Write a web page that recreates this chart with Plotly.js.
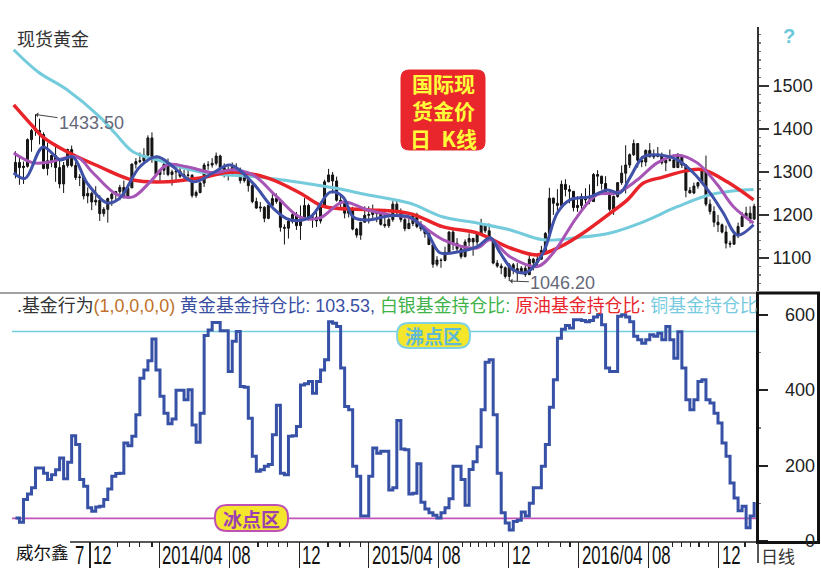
<!DOCTYPE html>
<html><head><meta charset="utf-8">
<script src="https://cdn.plot.ly/plotly-3.0.1.min.js"></script>
<style>html,body{margin:0;padding:0;background:#fff;}#chart{width:821px;height:569px;}</style>
</head><body><div id="chart"></div>
<script>
// ---------- weekly spot gold K-line (Wednesday-centred weeks) ----------
const weekStart = '2013-07-24';
const weekCount = 185;
const openP = [1294,1322,1310,1313,1375,1396,1396,1387,1308,1326,1338,1310,1272,1315,1352,1315,1287,1288,1244,1250,1230,1234,1203,
1213,1238,1248,1254,1264,1244,1263,1318,1324,1326,1339,1379,1335,1294,1304,1318,1294,1300,1302,1290,1293,1292,1245,1252,1274,1316,1316,1320,1337,1310,1303,1294,1310,1304,1280,1287,1268,1231,1216,1218,1192,1222,1238,1231,1171,1169,1185,1201,1175,1191,1222,1195,
1195,1186,1223,1277,1293,1279,1234,1228,1204,1213,1167,1153,1183,1199,1201,1207,1203,1178,1175,1189,1225,1205,1189,1168,1180,1201,1173,1168,1157,1131,1085,1095,1094,1113,1160,1134,1121,1103,1137,1145,1137,1156,1176,1163,1142,1088,1081,1077,1057,1084,1075,1065,
1076,1061,1097,1089,1097,1117,1157,1239,1227,1222,1271,1259,1255,1217,1222,1243,1235,1231,1294,1290,1273,1252,1213,1243,1275,1297,1316,1340,1366,1327,1323,1350,1335,1336,1341,1321,1327,1328,1310,1337,1316,1257,1251,1267,1275,1304,1225,1208,1183,1177,1160,1134,1132,
1152,1173,1196,1204,1190];
const highP = [1348,1336,1324,1378,1400,1434,1424,1392,1368,1340,1362,1327,1323,1354,1361,1323,1295,1291,1264,1254,1267,1246,1218,
1240,1251,1256,1270,1280,1271,1320,1332,1345,1355,1385,1392,1338,1305,1331,1331,1305,1315,1316,1305,1305,1295,1257,1277,1321,1325,1332,1345,1340,1320,1312,1322,1320,1310,1296,1290,1274,1240,1230,1220,1229,1255,1250,1234,1178,1193,1208,1207,1222,1239,1226,1204,
1216,1228,1282,1307,1300,1289,1245,1235,1220,1219,1170,1183,1220,1220,1224,1209,1207,1214,1194,1232,1233,1215,1197,1195,1205,1205,1186,1175,1159,1132,1104,1099,1126,1162,1170,1146,1127,1143,1157,1147,1160,1191,1178,1180,1143,1095,1087,1080,1088,1088,1088,1081,
1081,1112,1100,1111,1128,1160,1263,1240,1260,1280,1283,1269,1255,1243,1250,1262,1271,1297,1304,1291,1290,1258,1245,1276,1315,1362,1343,1375,1367,1337,1352,1367,1352,1358,1345,1329,1352,1330,1344,1340,1318,1265,1275,1277,1308,1338,1236,1220,1200,1180,1175,1140,1162,
1182,1207,1219,1220,1226];
const lowP = [1285,1270,1272,1310,1347,1384,1364,1306,1292,1311,1277,1262,1251,1310,1311,1281,1267,1236,1227,1211,1222,1186,1196,
1182,1221,1232,1234,1238,1240,1262,1308,1320,1322,1335,1321,1290,1277,1293,1290,1268,1277,1286,1284,1284,1240,1240,1250,1265,1305,1310,1315,1292,1287,1280,1290,1292,1273,1275,1254,1227,1214,1207,1183,1190,1221,1226,1161,1131,1145,1180,1165,1142,1190,1187,1170,
1172,1180,1217,1276,1250,1231,1216,1192,1194,1164,1147,1142,1182,1180,1192,1183,1175,1170,1170,1184,1200,1183,1162,1168,1174,1169,1162,1147,1131,1077,1080,1077,1092,1110,1118,1116,1098,1101,1127,1105,1130,1152,1158,1140,1085,1077,1062,1052,1046,1062,1046,1064,
1056,1061,1071,1082,1096,1111,1152,1200,1210,1217,1243,1227,1208,1207,1213,1224,1225,1231,1267,1259,1246,1208,1200,1240,1270,1250,1309,1337,1310,1311,1313,1334,1330,1334,1317,1302,1324,1309,1309,1309,1241,1250,1248,1261,1272,1220,1201,1172,1160,1157,1122,1124,1130,
1146,1172,1195,1180,1190];
const closeP = [1322,1310,1313,1375,1396,1396,1387,1308,1326,1338,1310,1272,1315,1352,1315,1287,1288,1244,1250,1230,1234,1203,1213,
1238,1248,1254,1264,1244,1263,1318,1324,1326,1339,1379,1335,1294,1304,1318,1294,1300,1302,1290,1293,1292,1245,1252,1274,1316,1316,1320,1337,1310,1303,1294,1310,1304,1280,1287,1268,1231,1216,1218,1192,1222,1238,1231,1171,1169,1185,1201,1175,1191,1222,1195,1195,
1186,1223,1277,1293,1279,1234,1228,1204,1213,1167,1153,1183,1199,1201,1207,1203,1178,1175,1189,1225,1205,1189,1168,1180,1201,1173,1168,1157,1131,1085,1095,1094,1113,1160,1134,1121,1103,1137,1145,1137,1156,1176,1163,1142,1088,1081,1077,1057,1084,1075,1065,1076,
1061,1097,1089,1097,1117,1157,1239,1227,1222,1271,1259,1255,1217,1222,1243,1235,1231,1294,1290,1273,1252,1213,1243,1275,1297,1316,1340,1366,1327,1323,1350,1335,1336,1341,1321,1327,1328,1310,1337,1316,1257,1251,1267,1275,1304,1225,1208,1183,1177,1160,1134,1132,1152,
1173,1196,1204,1190,1220];

// ---------- gold fund holding ratio (weekly, same weeks) ----------
const fundRatio = [61,50,110,125,141,194,194,180,163,176,
189,220,165,209,279,256,163,145,88,79,
90,92,110,138,172,179,180,260,253,278,
335,432,454,478,536,454,384,339,311,324,
400,400,375,401,308,262,339,545,560,580,
580,558,558,450,530,556,410,408,326,225,
185,189,198,203,282,360,180,176,278,279,
304,414,417,423,392,423,454,481,582,578,
569,459,357,348,198,172,66,66,172,247,
233,238,238,135,141,320,244,242,125,127,
205,103,85,75,68,61,75,88,112,198,
198,163,95,190,210,250,348,474,481,335,
180,75,48,29,52,55,77,66,100,141,
141,198,256,355,428,538,562,572,565,587,
587,585,582,585,594,600,574,459,450,450,
596,600,594,582,543,534,525,534,547,543,
551,534,569,534,485,555,459,375,348,375,
423,428,375,366,339,313,260,225,154,114,
80,92,35,66,103.53];
const boilLevel = 556;
const freezeLevel = 60;

// ---------- moving averages ----------
const maFastDates = ['2013-07-21','2013-08-10','2013-09-10','2013-10-10','2013-11-01','2013-11-26','2013-12-31','2014-01-22','2014-02-26','2014-03-28','2014-04-25','2014-05-30','2014-07-04','2014-08-02','2014-09-11','2014-10-16','2014-11-15','2014-12-20','2015-01-24','2015-02-15','2015-03-05','2015-03-29','2015-05-08','2015-06-12','2015-07-12','2015-08-03','2015-08-26','2015-10-07','2015-10-30','2015-11-16','2015-12-09','2016-01-02','2016-01-30','2016-02-24','2016-03-17','2016-04-21','2016-05-21','2016-06-12','2016-06-30','2016-07-23','2016-08-21','2016-09-20','2016-10-18','2016-11-16','2016-12-09','2017-01-03','2017-01-31'];
const maFastVals = [1298,1285,1358,1328,1335,1274,1228,1239,1312,1335,1312,1277,1298,1316,1274,1216,1188,1195,1253,1242,1195,1188,1198,1195,1158,1112,1112,1126,1147,1112,1072,1067,1112,1205,1235,1242,1258,1251,1288,1335,1339,1328,1298,1251,1205,1153,1177];
const maMidDates = ['2013-07-21','2013-08-24','2013-09-22','2013-11-08','2013-12-06','2014-01-17','2014-02-14','2014-03-16','2014-04-14','2014-05-19','2014-07-04','2014-08-07','2014-09-11','2014-10-23','2014-12-02','2015-01-06','2015-02-15','2015-03-29','2015-05-08','2015-06-12','2015-08-09','2015-10-07','2015-10-30','2015-12-04','2016-01-20','2016-02-17','2016-03-29','2016-05-03','2016-06-07','2016-07-12','2016-08-16','2016-09-20','2016-10-25','2016-11-29','2016-12-27','2017-01-31'];
const maMidVals = [1344,1321,1323,1335,1298,1247,1242,1277,1316,1312,1298,1305,1293,1242,1195,1193,1230,1212,1200,1193,1142,1123,1142,1102,1080,1112,1195,1247,1251,1281,1321,1339,1321,1270,1219,1181];
const maSlowDates = ['2013-07-21','2013-08-24','2013-09-10','2013-10-22','2013-12-18','2014-02-14','2014-04-14','2014-06-11','2014-08-07','2014-10-06','2014-12-02','2015-01-06','2015-01-29','2015-03-29','2015-06-12','2015-08-09','2015-10-07','2015-12-04','2016-01-20','2016-02-29','2016-04-09','2016-05-26','2016-06-25','2016-07-23','2016-08-26','2016-10-07','2016-11-04','2016-12-16','2017-01-31'];
const maSlowVals = [1456,1405,1381,1347,1312,1281,1277,1286,1300,1286,1251,1223,1216,1212,1203,1172,1158,1123,1107,1126,1158,1204,1235,1274,1288,1303,1305,1277,1235];
const maYearDates = ['2013-07-21','2013-09-01','2013-10-22','2013-12-18','2014-01-15','2014-02-14','2014-03-28','2014-06-11','2014-10-06','2015-01-29','2015-03-29','2015-06-12','2015-08-09','2015-10-07','2015-12-04','2016-01-30','2016-03-29','2016-05-26','2016-07-23','2016-09-20','2016-11-16','2017-01-13','2017-01-31'];
const maYearVals = [1584,1533,1491,1428,1388,1347,1328,1300,1286,1263,1247,1227,1195,1181,1165,1142,1147,1158,1184,1219,1247,1258,1259];

// ---------- axis labels ----------
const priceTicks = [1100,1200,1300,1400,1500];
const ratioTicks = [0,200,400,600];
const monthTickDates = ['2013-12-01','2014-04-01','2014-08-01','2014-12-01','2015-04-01','2015-08-01','2015-12-01','2016-04-01','2016-08-01','2016-12-01'];
const monthTickLabels = ['12','2014/04','08','12','2015/04','08','12','2016/04','08','12'];
const minorTickDates = ['2014-01-18','2014-02-08','2014-02-25','2014-03-19','2014-09-20','2014-10-07','2014-10-25','2014-11-11','2015-01-20','2015-02-10','2015-02-27','2015-03-17','2015-09-11','2015-09-25','2015-10-09','2015-10-23','2015-11-06','2015-11-20','2016-01-20','2016-02-09','2016-02-29','2016-03-17','2016-09-11','2016-09-27','2016-10-13','2016-10-28','2016-11-13','2017-01-16'];
const highNote = {date:'2013-08-28', value:1433.50};
const lowNote = {date:'2015-12-03', value:1046.20};

// ---------- geometry helpers ----------
const W=821,H=569,ML=12,MR=64,MT=27,MB=28;
const PW=W-ML-MR, PH=H-MT-MB;
const px2x = p => (p-ML)/PW;
const px2y = p => (H-MB-p)/PH;
function rrect(x0,y0,x1,y1,r){
  const X=px2x,Y=px2y;
  return `M${X(x0+r)},${Y(y0)} L${X(x1-r)},${Y(y0)} Q${X(x1)},${Y(y0)} ${X(x1)},${Y(y0+r)} L${X(x1)},${Y(y1-r)} Q${X(x1)},${Y(y1)} ${X(x1-r)},${Y(y1)} L${X(x0+r)},${Y(y1)} Q${X(x0)},${Y(y1)} ${X(x0)},${Y(y1-r)} L${X(x0)},${Y(y0+r)} Q${X(x0)},${Y(y0)} ${X(x0+r)},${Y(y0)} Z`;
}
function weekDates(){
  const out=[]; const d0=new Date(weekStart+'T00:00:00Z');
  for(let i=0;i<weekCount;i++){ out.push(new Date(d0.getTime()+i*7*86400000).toISOString().slice(0,10)); }
  return out;
}
const weeks = weekDates();
const FONT = 'Liberation Sans, Arial, Noto Sans CJK SC, sans-serif';
const CJK = 'Noto Sans CJK SC, sans-serif';

const data = [
  {type:'candlestick', x:weeks, open:openP, high:highP, low:lowP, close:closeP, xaxis:'x', yaxis:'y',
   increasing:{line:{color:'#111',width:1}, fillcolor:'#222'},
   decreasing:{line:{color:'#111',width:1}, fillcolor:'#111111'}, whiskerwidth:0, showlegend:false, hoverinfo:'skip'},
  {type:'scatter', mode:'lines', x:maYearDates, y:maYearVals, line:{color:'#74cbdc', width:3, shape:'spline'}, xaxis:'x', yaxis:'y', showlegend:false},
  {type:'scatter', mode:'lines', x:maSlowDates, y:maSlowVals, line:{color:'#e8242a', width:3.5, shape:'spline'}, xaxis:'x', yaxis:'y', showlegend:false},
  {type:'scatter', mode:'lines', x:maMidDates, y:maMidVals, line:{color:'#a654b5', width:3, shape:'spline'}, xaxis:'x', yaxis:'y', showlegend:false},
  {type:'scatter', mode:'lines', x:maFastDates, y:maFastVals, line:{color:'#3f51a8', width:3, shape:'spline'}, xaxis:'x', yaxis:'y', showlegend:false},
  {type:'scatter', mode:'lines', x:weeks, y:fundRatio, line:{color:'#3651a6', width:3, shape:'hv'}, xaxis:'x', yaxis:'y2', showlegend:false}
];

const annotations = [];
const xLabelIdx = new Set();
function ann(o){ annotations.push(Object.assign({showarrow:false}, o)); return annotations.length-1; }

ann({xref:'paper', yref:'paper', x:px2x(15), y:px2y(38), xanchor:'left', yanchor:'middle', text:'现货黄金', font:{family:CJK, size:18, color:'#333'}});
ann({xref:'paper', yref:'paper', x:px2x(789), y:px2y(36), xanchor:'center', yanchor:'middle', text:'<b>?</b>', font:{family:FONT, size:20, color:'#6cc8dc'}});
ann({xref:'x', yref:'y', x:highNote.date, y:highNote.value, text:highNote.value.toFixed(2), showarrow:true, ax:56, ay:8, arrowhead:1, arrowsize:0.9, arrowwidth:1, arrowcolor:'#444', font:{family:FONT, size:18, color:'#65687a'}});
ann({xref:'x', yref:'y', x:lowNote.date, y:lowNote.value, text:lowNote.value.toFixed(2), showarrow:true, ax:53, ay:2, arrowhead:1, arrowsize:0.9, arrowwidth:1, arrowcolor:'#444', font:{family:FONT, size:18, color:'#65687a'}});
ann({xref:'paper', yref:'paper', x:px2x(443), y:px2y(110.5), xanchor:'center', yanchor:'middle', align:'center', borderpad:0,
  text:'<b>国际现<br>货金价<br>日\u2002K线</b>', font:{family:CJK, size:21, color:'#ffff3a'}});
ann({xref:'paper', yref:'paper', x:px2x(15), y:px2y(306), xanchor:'left', yanchor:'middle',
  text:'<span style="color:#333">.基金行为</span><span style="color:#c0702a">(1,0,0,0,0)</span> <span style="color:#3a4fa3">黄金基金持仓比: 103.53,</span> <span style="color:#3fb34a">白银基金持仓比:</span> <span style="color:#e8262b">原油基金持仓比:</span> <span style="color:#77cbe0">铜基金持仓比</span>',
  font:{family:FONT, size:17.9, color:'#333'}});
ann({xref:'paper', yref:'paper', x:px2x(433.5), y:px2y(335.5), xanchor:'center', yanchor:'middle', text:'<b>沸点区</b>', font:{family:CJK, size:19, color:'#5fbad8'}});
ann({xref:'paper', yref:'paper', x:px2x(251.5), y:px2y(518), xanchor:'center', yanchor:'middle', text:'<b>冰点区</b>', font:{family:CJK, size:19, color:'#9c3fb0'}});
ann({xref:'paper', yref:'paper', x:px2x(14), y:px2y(551), xanchor:'left', yanchor:'middle', text:'威尔鑫', font:{family:CJK, size:17.5, color:'#111'}});
ann({xref:'paper', yref:'paper', x:px2x(759), y:px2y(555), xanchor:'left', yanchor:'middle', text:'日线', font:{family:CJK, size:17, color:'#333'}});
xLabelIdx.add(ann({xref:'paper', yref:'paper', x:px2x(73), y:px2y(555), xanchor:'left', yanchor:'middle', text:'7', font:{family:FONT, size:25, color:'#111'}}));
monthTickDates.forEach((d,i)=>{
  xLabelIdx.add(ann({xref:'x', yref:'paper', x:d, xshift:1, y:px2y(555), xanchor:'left', yanchor:'middle', text:monthTickLabels[i], font:{family:FONT, size:25, color:'#111'}}));
});
ratioTicks.forEach(v=>{
  ann({xref:'paper', yref:'y2', x:px2x(817), y:v, xanchor:'right', yanchor:'middle', text:String(v), font:{family:FONT, size:18, color:'#222'}});
});

const shapes = [
  {type:'line', xref:'paper', yref:'y2', x0:0, x1:1, y0:boilLevel, y1:boilLevel, line:{color:'#72cfe0', width:1.6}, layer:'below'},
  {type:'line', xref:'paper', yref:'y2', x0:0, x1:1, y0:freezeLevel, y1:freezeLevel, line:{color:'#c454b8', width:1.6}, layer:'below'},
  {type:'path', xref:'paper', yref:'paper', path:rrect(401,70,485,150,8), fillcolor:'#e8262b', line:{color:'#e8262b', width:1}},
  {type:'path', xref:'paper', yref:'paper', path:rrect(397,323,470,348,12), fillcolor:'#f4e62a', line:{color:'#80d2e2', width:2}},
  {type:'path', xref:'paper', yref:'paper', path:rrect(215,505,288,531,12), fillcolor:'#f4e62a', line:{color:'#c050b4', width:2}},
  {type:'line', xref:'paper', yref:'paper', x0:px2x(0), x1:px2x(757), y0:px2y(293), y1:px2y(293), line:{color:'#444', width:1.2}},
  {type:'line', xref:'paper', yref:'paper', x0:px2x(70), x1:px2x(757), y0:px2y(542), y1:px2y(542), line:{color:'#222', width:1.5}},
  {type:'rect', xref:'paper', yref:'paper', x0:px2x(757.5), x1:px2x(818.5), y0:px2y(542.5), y1:px2y(293), line:{color:'#111', width:3}},
  {type:'line', xref:'paper', yref:'paper', x0:px2x(758), x1:px2x(758), y0:px2y(542), y1:px2y(563), line:{color:'#222', width:1.5}}
];

const layout = {
  width:W, height:H, margin:{l:ML, r:MR, t:MT, b:MB, pad:0},
  paper_bgcolor:'#fff', plot_bgcolor:'#fff', showlegend:false,
  font:{family:FONT, size:16, color:'#222'},
  xaxis:{type:'date', range:['2013-07-18','2017-02-06'], anchor:'y2', showgrid:false, zeroline:false, showline:false,
    ticks:'outside', tickmode:'array', tickvals:monthTickDates, ticklen:26, tickwidth:1.3, tickcolor:'#222', showticklabels:false,
    minor:{tickmode:'array', tickvals:minorTickDates, ticks:'outside', ticklen:5, tickwidth:1.2, tickcolor:'#222', showgrid:false},
    rangeslider:{visible:false}, fixedrange:true},
  yaxis:{domain:[px2y(291),1], range:[1023,1637], side:'right', anchor:'x', showgrid:false, zeroline:false,
    showline:true, linecolor:'#333', linewidth:2, ticks:'outside', tickmode:'array', tickvals:priceTicks, ticklen:10, tickwidth:2, tickcolor:'#333',
    tickfont:{family:FONT, size:18, color:'#222'},
    minor:{tickmode:'linear', tick0:1000, dtick:20, ticks:'outside', ticklen:2, tickwidth:1.5, tickcolor:'#777', showgrid:false}},
  yaxis2:{domain:[0,px2y(293)], range:[0,658], side:'right', anchor:'x', showgrid:false, zeroline:false,
    showline:false, ticks:'outside', tickmode:'array', tickvals:ratioTicks, ticklen:10, tickwidth:2, tickcolor:'#222', showticklabels:false,
    minor:{tickmode:'linear', tick0:0, dtick:100, ticks:'outside', ticklen:3, tickwidth:1.5, tickcolor:'#777', showgrid:false}},
  annotations:annotations, shapes:shapes
};

Plotly.newPlot('chart', data, layout, {staticPlot:true, displayModeBar:false}).then(gd=>{
  gd.querySelectorAll('g.annotation').forEach(g=>{
    const idx = +g.getAttribute('data-index');
    if(xLabelIdx.has(idx)){
      const t = g.querySelector('text.annotation-text');
      if(!t) return;
      const bb = t.getBBox();
      t.setAttribute('transform', `translate(${bb.x},0) scale(0.67,1) translate(${-bb.x},0)`);
    }
  });
});
</script></body></html>
